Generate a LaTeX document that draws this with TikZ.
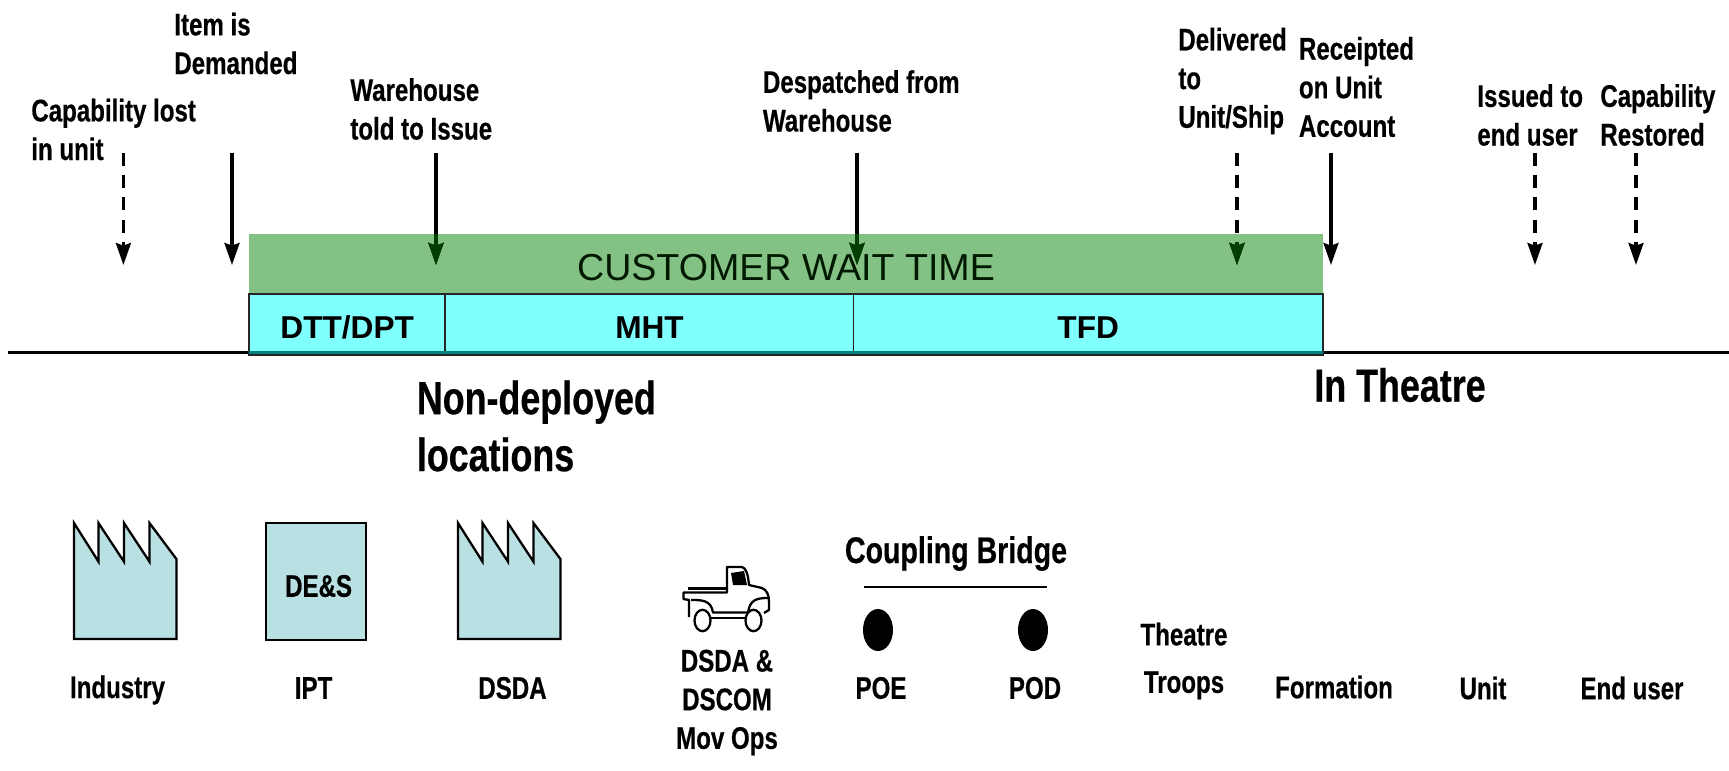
\documentclass[tikz,border=0pt]{standalone}
\usepackage{fontspec}
\usetikzlibrary{arrows.meta,shapes.geometric}
\setmainfont{Liberation Sans}
\newfontfamily\condfont[FakeStretch=.77,FakeBold=.5]{Liberation Sans}
\definecolor{waitgreen}{HTML}{84C184}
\definecolor{cellcyan}{HTML}{80FFFF}
\definecolor{stripteal}{HTML}{008080}
\definecolor{plantblue}{HTML}{B9E0E3}
\definecolor{darkarrow}{HTML}{003F00}
\tikzset{
  evlabel/.style={anchor=west,align=left,inner sep=0pt,font=\condfont\bfseries\fontsize{17.8}{22}\selectfont},
  sitelabel/.style={align=center,inner sep=0pt,font=\condfont\bfseries\fontsize{17.8}{22}\selectfont},
  biglabel/.style={anchor=west,align=left,inner sep=0pt,font=\condfont\bfseries\fontsize{26.5}{32.4}\selectfont},
  cellbox/.style={draw=black!85,line width=1pt,fill=cellcyan,minimum height=1.22cm,inner sep=0pt,
    text height=15.8pt,text depth=0pt,font=\bfseries\fontsize{18}{22}\selectfont},
  firmline/.style={line width=1.9pt,-{Stealth[length=12.5pt,width=8.5pt,inset=1.5pt]}},
  dashline/.style={firmline,dash pattern=on 7.4pt off 5.3pt},
  plantshape/.style={draw=black,line width=1.3pt,fill=plantblue,line join=miter},
  portdot/.style={ellipse,fill=black,minimum width=.6cm,minimum height=.84cm,inner sep=0pt},
}
\begin{document}
\begin{tikzpicture}[x=.02cm,y=-.02cm]
  \useasboundingbox (0,0) rectangle (1729,771);

  % time line and bars
  \coordinate (lineL) at (8,352.5);
  \coordinate (lineR) at (1729,352.5);
  \draw[line width=1.5pt] (lineL) -- (lineR);
  \node[fill=waitgreen,minimum width=21.48cm,minimum height=1.2cm,inner sep=0pt,text height=19pt,text depth=0pt,
        font=\fontsize{21.4}{25}\selectfont,text=black!90!green] (wait) at (786,264) {CUSTOMER WAIT TIME};
  \node[cellbox,minimum width=3.92cm]  (dtt) at (347.2,324.5) {DTT/DPT};
  \node[cellbox,minimum width=8.16cm]  (mht) at (649.5,324.5) {MHT};
  \node[cellbox,minimum width=9.39cm]  (tfd) at (1088.2,324.5) {TFD};
  \fill[stripteal] (249,351) rectangle (1323,354);

  % events
  \node[evlabel] (lost)    at (31,129.5)  {Capability lost\\in unit};
  \node[evlabel] (demand)  at (174,43.5)  {Item is\\Demanded};
  \node[evlabel] (told)    at (350,109)   {Warehouse\\told to Issue};
  \node[evlabel] (desp)    at (762.6,101) {Despatched from\\Warehouse};
  \node[evlabel] (deliv)   at (1178,81)   {Delivered\\to\\Unit/Ship};
  \node[evlabel] (receipt) at (1298.6,87) {Receipted\\on Unit\\Account};
  \node[evlabel] (issued)  at (1477,115)  {Issued to\\end user};
  \node[evlabel] (restore) at (1600,115)  {Capability\\Restored};

  \foreach \nm/\xx in {a/123.4,b/232,c/436,d/857,e/1237,f/1331,g/1535,h/1636} {
    \coordinate (top\nm) at (\xx,152.7);
    \coordinate (tip\nm) at (\xx,265);
  }
  \draw[dashline] (topa) -- (tipa);
  \draw[firmline] (topb) -- (tipb);
  \draw[firmline] (topc) -- (tipc);
  \draw[firmline] (topd) -- (tipd);
  \draw[dashline] (tope) -- (tipe);
  \draw[firmline] (topf) -- (tipf);
  \draw[dashline] (topg) -- (tipg);
  \draw[dashline] (toph) -- (tiph);
  % same arrows again where they cross the green bar
  \begin{scope}
    \clip (249,234) rectangle (1323,294);
    \draw[firmline,darkarrow] (topc) -- (tipc);
    \draw[firmline,darkarrow] (topd) -- (tipd);
    \draw[dashline,darkarrow] (tope) -- (tipe);
  \end{scope}

  \node[biglabel] (nondep)  at (416.5,426) {Non-deployed\\locations};
  \node[biglabel] (theatre) at (1314,385) {In Theatre};

  % sites
  \path[plantshape] (74,639) -- (74,523) -- (98.5,561.7) -- (98.5,523) -- (124,561.7) -- (124,523)
    -- (149.5,561.7) -- (149.5,523) -- (176.4,559) -- (176.4,639) -- cycle;
  \path[plantshape] (458,639) -- (458,523) -- (482.5,561.7) -- (482.5,523) -- (508,561.7) -- (508,523)
    -- (533.5,561.7) -- (533.5,523) -- (560.4,559) -- (560.4,639) -- cycle;
  \node[draw=black,line width=1.3pt,fill=plantblue,minimum width=2.01cm,minimum height=2.34cm,inner sep=0pt] (ipt) at (316,581.5) {};
  \node[sitelabel] (des) at (318.6,586) {DE\&S};

  % truck
  \begin{scope}[line width=1.3pt,line join=round]
    \draw (689,617) -- (689,600) -- (683.5,599) -- (683.5,592.5) -- (727,592.5) -- (727,567) -- (742,567)
      .. controls (746,568) and (748,574) .. (749,585) -- (762,588)
      .. controls (767,590) and (769,595) .. (769,602) -- (769,610) -- (764,613);
    \draw[line width=1.8pt] (688,588.5) -- (727,588.5);
    \draw (691,600) .. controls (702,600) and (711,600) .. (713,612.5) -- (748,612.5)
      .. controls (750,600) and (756,598) .. (768,598);
    \draw (708,618) -- (746,618);
    \fill (731,573) -- (744,571) -- (747,585) -- (733,585) -- cycle;
    \draw[fill=white] (702.5,620.5) ellipse (8 and 10.7);
    \draw[fill=white] (753.5,620.5) ellipse (8 and 10.7);
  \end{scope}

  \node[sitelabel] (industry) at (117.5,690) {Industry};
  \node[sitelabel] (iptlbl)   at (313.6,688) {IPT};
  \node[sitelabel] (dsda)     at (512.5,688) {DSDA};
  \node[sitelabel] (movops)   at (727,702.5) {DSDA \&\\DSCOM\\Mov Ops};

  \node[sitelabel,font=\condfont\bfseries\fontsize{21.1}{24}\selectfont] (bridge) at (956,553.5) {Coupling Bridge};
  \coordinate (bridgeL) at (864,587);
  \coordinate (bridgeR) at (1047,587);
  \draw[line width=1.5pt] (bridgeL) -- (bridgeR);
  \node[portdot] (poedot) at (878,630) {};
  \node[portdot] (poddot) at (1033,630) {};
  \node[sitelabel] (poe) at (881,688) {POE};
  \node[sitelabel] (pod) at (1035,688) {POD};

  \node[sitelabel,font=\condfont\bfseries\fontsize{17.8}{27}\selectfont] (troops) at (1184,661) {Theatre\\Troops};
  \node[sitelabel] (formation) at (1334,687) {Formation};
  \node[sitelabel] (unit)      at (1483,688) {Unit};
  \node[sitelabel] (enduser)   at (1632,688) {End user};
\end{tikzpicture}
\end{document}
